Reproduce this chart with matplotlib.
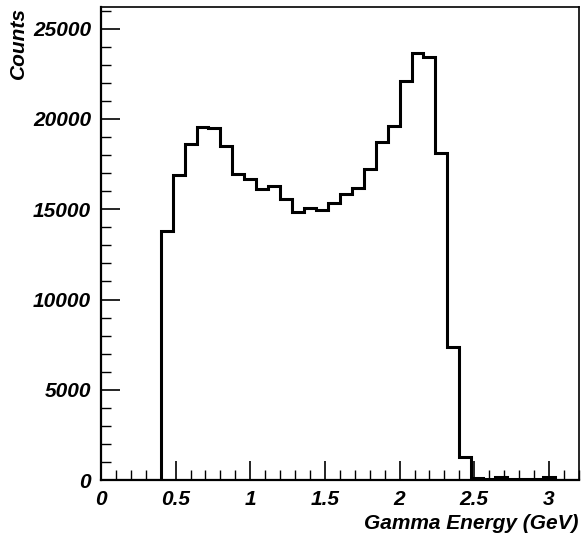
import numpy as np
import matplotlib.pyplot as plt
from matplotlib.ticker import MultipleLocator

# 40 bins of 0.08 GeV from 0 to 3.2
bin_edges = np.linspace(0, 3.2, 41)
counts = [0, 0, 0, 0, 0,
          13820, 16870, 18590, 19570, 19510,
          18510, 16960, 16670, 16110, 16260,
          15560, 14870, 15060, 14930, 15330,
          15840, 16170, 17220, 18750, 19620,
          22130, 23650, 23430, 18110, 7350,
          1260, 120, 60, 180, 80,
          40, 40, 150, 30, 20]

x_ticks = [0, 0.5, 1, 1.5, 2, 2.5, 3]
x_ticklabels = ['0', '0.5', '1', '1.5', '2', '2.5', '3']
y_ticks = [0, 5000, 10000, 15000, 20000, 25000]

plt.rcParams['font.family'] = ['Liberation Sans', 'DejaVu Sans']
font = dict(fontsize=15, fontweight='bold', fontstyle='italic')

fig = plt.figure(figsize=(5.87, 5.40), dpi=100)
ax = fig.add_axes([0.172, 0.111, 0.814, 0.876])

ax.stairs(counts, bin_edges, color='black', linewidth=2.2)

ax.set_xlim(0, 3.2)
ax.set_ylim(0, 26200)

ax.set_xticks(x_ticks)
ax.set_xticklabels(x_ticklabels, **font)
ax.set_yticks(y_ticks)
ax.set_yticklabels([str(v) for v in y_ticks], **font)
ax.xaxis.set_minor_locator(MultipleLocator(0.1))
ax.yaxis.set_minor_locator(MultipleLocator(1000))

ax.tick_params(which='major', direction='in', length=14, width=1.2,
               top=False, right=False)
ax.tick_params(which='minor', direction='in', length=7, width=1.0,
               top=False, right=False)
ax.tick_params(axis='x', which='major', pad=7)
ax.tick_params(axis='y', which='major', pad=7)

for side in ['left', 'bottom']:
    ax.spines[side].set_linewidth(1.6)
for side in ['top', 'right']:
    ax.spines[side].set_linewidth(1.2)

ax.set_xlabel('Gamma Energy (GeV)', loc='right', labelpad=4, **font)
ax.set_ylabel('Counts', loc='top', labelpad=4, **font)

plt.savefig('out.png', dpi=100)
